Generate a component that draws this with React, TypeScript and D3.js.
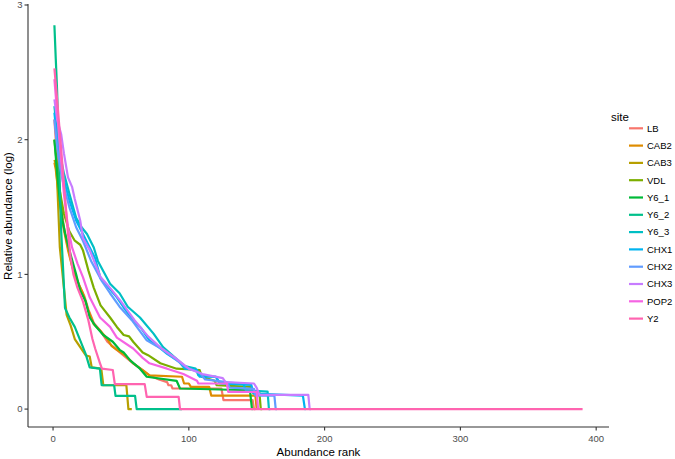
import React from "react";
import * as d3 from "d3";

const sites = ["LB", "CAB2", "CAB3", "VDL", "Y6_1", "Y6_2", "Y6_3", "CHX1", "CHX2", "CHX3", "POP2", "Y2"];
const colors = ["#F8766D", "#DE8C00", "#B79F00", "#7CAE00", "#00BA38", "#00C08B", "#00BFC4", "#00B4F0", "#619CFF", "#C77CFF", "#F564E3", "#FF64B0"];

const xTicks = [0, 100, 200, 300, 400];
const yTicks = [0, 1, 2, 3];

// [rank, log relative abundance] vertices
const LB = [[1,2.15],[2,2.0],[4,1.75],[6,1.5],[8,1.35],[11,1.2],[14,1.07],[17,0.98],[20,0.9],[23,0.84],[26,0.74],[30,0.64],[35,0.58],[40,0.5],[47,0.44],[53,0.39],[59,0.34],[66,0.29],[71,0.25],[78,0.22],[84,0.2],[85,0.177],[87,0.177],[88,0.153],[124,0.153],[125.5,0.067],[147,0.067],[148,0],[149,0]];
const CAB2 = [[1,1.83],[2,1.78],[4,1.6],[6,1.45],[8,1.33],[11,1.18],[14,1.06],[17,0.97],[22,0.86],[26,0.73],[30,0.63],[35,0.58],[40,0.52],[43,0.47],[47,0.44],[53,0.4],[59,0.34],[66,0.29],[71,0.25],[95,0.24],[96.5,0.19],[100,0.19],[101.5,0.165],[115,0.165],[116.5,0.1],[149,0.1],[150,0]];
const CAB3 = [[1,1.85],[2,1.82],[3,1.7],[4,1.45],[5,1.2],[6,1.1],[8,0.9],[10,0.7],[13,0.62],[16,0.52],[20,0.46],[24,0.4],[27,0.39],[28.5,0.31],[35.5,0.3],[37,0.177],[54,0.177],[55.5,0],[58,0]];
const VDL = [[1,2.0],[3,1.8],[5,1.62],[8,1.45],[12,1.32],[16,1.25],[20,1.22],[22,1.18],[26,1.03],[30,0.9],[35,0.77],[42,0.68],[47,0.61],[52,0.55],[56,0.54],[59,0.5],[66,0.42],[70,0.4],[79,0.34],[91,0.3],[108,0.29],[109.5,0.24],[119,0.21],[120.5,0.177],[146,0.165],[147.5,0.12],[152,0.12],[153,0],[154,0]];
const Y6_1 = [[1,2.0],[3,1.75],[5,1.55],[7,1.4],[9,1.3],[12,1.18],[17,1.0],[20,0.88],[24,0.8],[27,0.68],[31,0.62],[37,0.55],[44,0.5],[49,0.44],[52,0.42],[57,0.36],[64,0.3],[69,0.24],[91,0.21],[93.5,0.153],[145,0.14],[146.5,0],[147,0]];
const Y6_2 = [[1,2.85],[2,2.6],[3,2.36],[4,2.0],[5,1.65],[6,1.32],[7.6,1.0],[8.8,0.75],[12,0.68],[16,0.61],[20,0.51],[24,0.41],[27,0.31],[34.5,0.3],[35.8,0.177],[45,0.177],[46,0.098],[60.4,0.098],[61.6,0],[95,0]];
const Y6_3 = [[1,2.25],[3,2.05],[5,1.9],[8,1.75],[12,1.6],[17,1.42],[21,1.35],[25,1.3],[30,1.2],[33,1.1],[42,0.93],[49,0.86],[55,0.76],[64,0.68],[74,0.56],[81,0.46],[90,0.38],[97,0.32],[105,0.3],[107,0.25],[120,0.24],[122,0.2],[140,0.19],[142,0.14],[158,0.13],[159,0],[160,0]];
const CHX1 = [[1,2.2],[3,2.0],[5,1.85],[8,1.7],[12,1.55],[17,1.4],[22,1.3],[27,1.2],[31,1.12],[35,0.97],[41,0.9],[47,0.83],[53,0.74],[59,0.66],[65,0.6],[71,0.51],[78,0.46],[84,0.41],[93,0.35],[97,0.3],[106,0.29],[108,0.24],[120,0.24],[123,0.19],[146,0.18],[147.5,0.115],[184,0.1],[185.5,0],[186,0]];
const CHX2 = [[1,2.15],[3,1.95],[5,1.8],[8,1.65],[12,1.5],[17,1.35],[22,1.25],[28,1.1],[36,0.95],[42,0.86],[49,0.76],[58,0.66],[69,0.51],[81,0.44],[90,0.37],[98,0.31],[108,0.27],[112,0.22],[128,0.2],[130,0.16],[148,0.15],[149,0.1],[163,0.1],[164,0],[165,0]];
const CHX3 = [[1,2.3],[3,2.15],[6,2.04],[8,1.9],[11,1.72],[14,1.65],[16,1.56],[20,1.4],[22,1.27],[27,1.18],[35,0.98],[42,0.9],[50,0.8],[60,0.66],[70,0.54],[80,0.45],[90,0.38],[100,0.3],[110,0.26],[125,0.23],[127,0.2],[148,0.19],[150,0.157],[152,0.105],[188,0.105],[189,0],[190,0]];
const POP2 = [[1,2.45],[3,2.2],[5,1.95],[8,1.6],[11,1.35],[14,1.2],[18,1.08],[22,0.98],[27,0.83],[34.6,0.68],[42,0.61],[47,0.53],[59,0.45],[66,0.38],[71,0.34],[84,0.3],[96,0.26],[106,0.21],[107,0.19],[128,0.19],[129,0.128],[150,0.128],[151,0]];
const Y2 = [[1,2.53],[3,2.3],[5,2.05],[7,1.8],[9,1.55],[11,1.3],[13,1.12],[15,1.0],[18,0.9],[22,0.8],[26,0.66],[29,0.52],[31,0.45],[34.6,0.34],[36,0.3],[44,0.29],[45.5,0.185],[67.5,0.185],[69,0.091],[92.5,0.091],[93.5,0],[390,0]];

const seriesData = [LB, CAB2, CAB3, VDL, Y6_1, Y6_2, Y6_3, CHX1, CHX2, CHX3, POP2, Y2];

export default function App() {
  const W = 675, H = 459;
  const x = d3.scaleLinear().domain([-18.45, 409.45]).range([28, 609]);
  const y = d3.scaleLinear().domain([-0.133, 3.0]).range([427, 5]);
  const line = d3.line<number[]>().x(d => x(d[0])).y(d => y(d[1]));
  const font = "'Liberation Sans', Arial, sans-serif";
  const left = x.range()[0], right = x.range()[1];
  const bottom = y.range()[0], top = y.range()[1];
  return (
    <svg width={W} height={H} style={{ position: "absolute", left: 0, top: 0, background: "#fff" }} fontFamily={font}>
      <rect x={0} y={0} width={W} height={H} fill="#fff" />
      <g fill="none" strokeWidth={2.2} strokeLinejoin="round" strokeLinecap="butt">
        {seriesData.map((s, i) => (
          <path key={sites[i]} d={line(s as number[][]) || ""} stroke={colors[i]} />
        ))}
      </g>
      {/* axes */}
      <line x1={left} x2={left} y1={top - 1} y2={bottom} stroke="#333" strokeWidth={1.1} />
      <line x1={left} x2={right} y1={bottom} y2={bottom} stroke="#333" strokeWidth={1.1} />
      {yTicks.map(t => (
        <g key={"y" + t}>
          <line x1={left - 3.5} x2={left} y1={y(t)} y2={y(t)} stroke="#333" strokeWidth={1.1} />
          <text x={left - 5.5} y={y(t)} dy="0.35em" textAnchor="end" fontSize={9.5} fill="#4D4D4D">{t}</text>
        </g>
      ))}
      {xTicks.map(t => (
        <g key={"x" + t}>
          <line x1={x(t)} x2={x(t)} y1={bottom} y2={bottom + 3.5} stroke="#333" strokeWidth={1.1} />
          <text x={x(t)} y={438.5} dy="0.35em" textAnchor="middle" fontSize={9.5} fill="#4D4D4D">{t}</text>
        </g>
      ))}
      <text x={(left + right) / 2} y={455.5} textAnchor="middle" fontSize={11.5} fill="#000">Abundance rank</text>
      <text transform={`translate(12,${(top + bottom) / 2}) rotate(-90)`} textAnchor="middle" fontSize={11.5} fill="#000">Relative abundance (log)</text>
      {/* legend */}
      <text x={611} y={121} fontSize={11.5} fill="#000">site</text>
      {sites.map((s, i) => (
        <g key={"lg" + s} transform={`translate(0,${128.3 + i * 17.3})`}>
          <line x1={629} x2={643} y1={0} y2={0} stroke={colors[i]} strokeWidth={2.2} />
          <text x={647} y={0} dy="0.35em" fontSize={9.5} fill="#000">{s}</text>
        </g>
      ))}
    </svg>
  );
}
